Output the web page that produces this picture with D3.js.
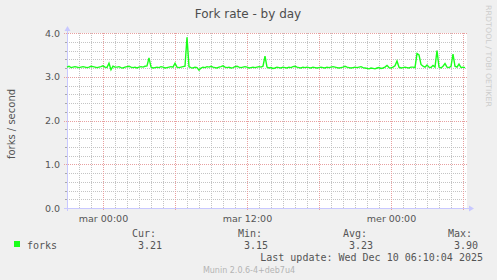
<!DOCTYPE html>
<html>
<head>
<meta charset="utf-8">
<script src="https://cdn.jsdelivr.net/npm/d3@7"></script>
<style>
  body { margin: 0; background: #f0f0f0; }
  svg { display: block; }
</style>
</head>
<body>
<svg id="chart" width="497" height="280"></svg>
<script>
// fork rate samples, 10 min apart, starting Mon Dec 8 2025 21:00
const startTime = new Date(2025, 11, 8, 21, 0);
const endTime = new Date(2025, 11, 10, 6, 20);
const stepMinutes = 10;
const forks = [
  3.22,3.24,3.21,3.22,3.23,3.22,3.21,3.22,3.23,3.22,
  3.21,3.22,3.24,3.23,3.22,3.21,3.22,3.23,3.25,3.22,
  3.21,3.31,3.16,3.24,3.22,3.22,3.23,3.21,3.20,3.22,
  3.23,3.24,3.22,3.21,3.22,3.20,3.22,3.23,3.22,3.24,
  3.25,3.43,3.22,3.20,3.21,3.22,3.21,3.23,3.22,3.20,
  3.21,3.22,3.23,3.22,3.31,3.22,3.21,3.22,3.23,3.24,
  3.90,3.23,3.21,3.20,3.22,3.21,3.15,3.20,3.22,3.21,
  3.23,3.22,3.24,3.22,3.21,3.20,3.22,3.23,3.25,3.22,
  3.21,3.22,3.20,3.21,3.23,3.24,3.22,3.21,3.22,3.23,
  3.22,3.20,3.21,3.22,3.21,3.22,3.23,3.22,3.24,3.47,
  3.22,3.20,3.21,3.19,3.20,3.22,3.21,3.20,3.22,3.21,
  3.20,3.22,3.21,3.23,3.24,3.22,3.21,3.20,3.22,3.21,
  3.22,3.21,3.20,3.22,3.21,3.20,3.21,3.22,3.21,3.20,
  3.22,3.21,3.22,3.23,3.22,3.21,3.20,3.21,3.22,3.24,
  3.22,3.21,3.20,3.21,3.22,3.21,3.22,3.23,3.21,3.20,
  3.19,3.18,3.20,3.19,3.18,3.20,3.21,3.19,3.20,3.22,
  3.26,3.21,3.20,3.22,3.25,3.36,3.22,3.20,3.21,3.22,
  3.21,3.20,3.22,3.22,3.21,3.53,3.50,3.28,3.24,3.22,
  3.27,3.22,3.21,3.26,3.22,3.60,3.22,3.20,3.24,3.30,
  3.22,3.21,3.24,3.52,3.24,3.22,3.29,3.21,3.22,3.21
];
const yTicks = [0, 1, 2, 3, 4];
const legendHeads = ['Cur:', 'Min:', 'Avg:', 'Max:'];
const legendValues = ['3.21', '3.15', '3.23', '3.90'];
const shortDays = ['dim', 'lun', 'mar', 'mer', 'jeu', 'ven', 'sam'];

const data = forks.map((v, i) => ({
  t: d3.timeMinute.offset(startTime, i * stepMinutes),
  v: v,
}));

const svg = d3.select('#chart');
const plotL = 67, plotR = 467, plotT = 33, plotB = 208;
const x = d3.scaleTime().domain([startTime, endTime]).range([plotL, plotR]);
const y = d3.scaleLinear().domain([0, 4]).range([plotB, plotT]);
const green = '#1aff1a';
const axisCol = '#c8c8ff';
const fontSans = 'DejaVu Sans, sans-serif';
const fontMono = 'DejaVu Sans Mono, monospace';

svg.append('rect').attr('width', 497).attr('height', 280).attr('fill', '#f0f0f0');
svg.append('rect')
  .attr('x', plotL).attr('y', plotT)
  .attr('width', plotR - plotL).attr('height', plotB - plotT)
  .attr('fill', '#ffffff');

// grid (minor lines skip the spots where a major line sits)
const grid = svg.append('g').attr('shape-rendering', 'crispEdges');
const majorX = x.ticks(d3.timeHour.every(6));
const minorX = x.ticks(d3.timeHour.every(1)).filter(d => d.getHours() % 6 !== 0);
const minorY = y.ticks(20).filter(d => Math.abs(d - Math.round(d)) > 1e-6);
const px = v => Math.round(v) + 0.5;
grid.selectAll('.minor-x').data(minorX).join('line')
  .attr('x1', d => px(x(d))).attr('x2', d => px(x(d)))
  .attr('y1', plotT).attr('y2', plotB)
  .attr('stroke', '#c4c4c4').attr('stroke-dasharray', '1,1');
grid.selectAll('.minor-y').data(minorY).join('line')
  .attr('x1', plotL).attr('x2', plotR)
  .attr('y1', d => px(y(d))).attr('y2', d => px(y(d)))
  .attr('stroke', '#c4c4c4').attr('stroke-dasharray', '1,1');
grid.selectAll('.major-x').data(majorX).join('line')
  .attr('x1', d => px(x(d))).attr('x2', d => px(x(d)))
  .attr('y1', plotT).attr('y2', plotB + 3)
  .attr('stroke', '#e8a0a0').attr('stroke-dasharray', '1,1');
grid.selectAll('.major-y').data(yTicks).join('line')
  .attr('x1', plotL - 3).attr('x2', plotR)
  .attr('y1', d => px(y(d))).attr('y2', d => px(y(d)))
  .attr('stroke', '#e8a0a0').attr('stroke-dasharray', '1,1');
// small ticks on the y axis
grid.selectAll('.ytick').data(minorY).join('line')
  .attr('x1', plotL - 2).attr('x2', plotL)
  .attr('y1', d => px(y(d))).attr('y2', d => px(y(d)))
  .attr('stroke', '#aaaaaa');

// axes with arrows
const ax = svg.append('g').attr('shape-rendering', 'crispEdges');
ax.append('line').attr('x1', plotL - 3).attr('x2', plotR + 4)
  .attr('y1', plotB + 0.5).attr('y2', plotB + 0.5).attr('stroke', axisCol);
ax.append('line').attr('x1', plotL + 0.5).attr('x2', plotL + 0.5)
  .attr('y1', plotB + 3).attr('y2', plotT - 4).attr('stroke', axisCol);
svg.append('path')
  .attr('d', `M${plotR + 7},${plotB + 0.5} L${plotR + 2},${plotB - 2.5} L${plotR + 2},${plotB + 3.5} Z`)
  .attr('fill', axisCol);
svg.append('path')
  .attr('d', `M${plotL + 0.5},${plotT - 7} L${plotL - 2.5},${plotT - 2} L${plotL + 3.5},${plotT - 2} Z`)
  .attr('fill', axisCol);

// labels
svg.selectAll('.ylab').data(yTicks).join('text')
  .attr('x', plotL - 7).attr('y', d => y(d) + 3.5)
  .attr('text-anchor', 'end').attr('font-family', fontSans).attr('font-size', 9.5)
  .attr('fill', '#555').text(d => d3.format('.1f')(d));
const fmtTime = d3.timeFormat('%H:%M');
svg.selectAll('.xlab').data(x.ticks(d3.timeHour.every(12))).join('text')
  .attr('x', d => x(d) + 0.5).attr('y', plotB + 14)
  .attr('text-anchor', 'middle').attr('font-family', fontSans).attr('font-size', 9.5)
  .attr('fill', '#555').text(d => shortDays[d.getDay()] + ' ' + fmtTime(d));

svg.append('text').attr('x', 248).attr('y', 18).attr('text-anchor', 'middle')
  .attr('font-family', fontSans).attr('font-size', 12).attr('fill', '#4d4d4d')
  .text('Fork rate - by day');
svg.append('text').attr('transform', 'translate(486,5) rotate(90)')
  .attr('font-family', fontSans).attr('font-size', 7.5).attr('fill', '#cccccc')
  .attr('textLength', 102).attr('lengthAdjust', 'spacingAndGlyphs')
  .text('RRDTOOL / TOBI OETIKER');
svg.append('text').attr('transform', 'translate(15,124) rotate(-90)')
  .attr('text-anchor', 'middle').attr('font-family', fontSans).attr('font-size', 10)
  .attr('fill', '#555').text('forks / second');

// data line
const line = d3.line().x(d => x(d.t)).y(d => y(d.v));
svg.append('path').datum(data)
  .attr('d', line).attr('fill', 'none')
  .attr('stroke', green).attr('stroke-width', 1.4);

// legend
svg.append('rect').attr('x', 14).attr('y', 241).attr('width', 6).attr('height', 6).attr('fill', green);
svg.append('text').attr('x', 27).attr('y', 249).attr('font-family', fontMono)
  .attr('font-size', 10).attr('fill', '#555').text('forks');
const colX = [132, 238, 343, 448];
svg.selectAll('.lhead').data(legendHeads).join('text')
  .attr('x', (d, i) => colX[i]).attr('y', 237)
  .attr('font-family', fontMono).attr('font-size', 10).attr('fill', '#555').text(d => d);
svg.selectAll('.lval').data(legendValues).join('text')
  .attr('x', (d, i) => colX[i] + 6).attr('y', 249)
  .attr('font-family', fontMono).attr('font-size', 10).attr('fill', '#555').text(d => d);
svg.append('text').attr('x', 483).attr('y', 261).attr('text-anchor', 'end')
  .attr('font-family', fontMono).attr('font-size', 10).attr('fill', '#555')
  .text('Last update: Wed Dec 10 06:10:04 2025');
svg.append('text').attr('x', 249).attr('y', 273).attr('text-anchor', 'middle')
  .attr('font-family', fontSans).attr('font-size', 8).attr('fill', '#b4b4b4')
  .text('Munin 2.0.6-4+deb7u4');
</script>
</body>
</html>
